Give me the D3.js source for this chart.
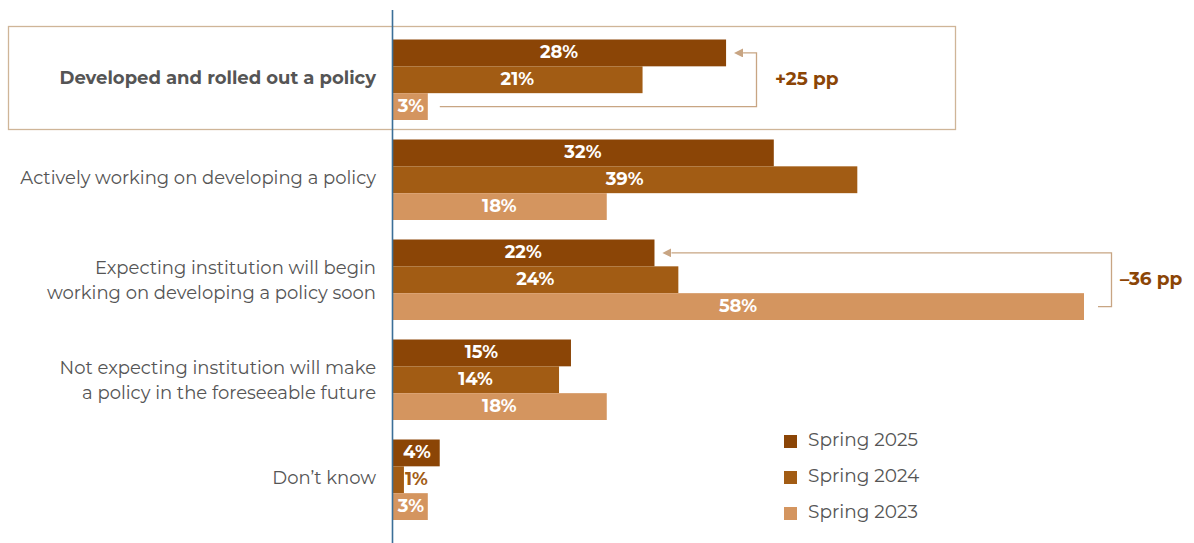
<!DOCTYPE html>
<html>
<head>
<meta charset="utf-8">
<script src="https://cdn.jsdelivr.net/npm/d3@7"></script>
<style>
  body { margin: 0; background: #fff; }
  svg { display: block; font-family: "Montserrat", "Lato", "Open Sans", sans-serif; }
</style>
</head>
<body>
<svg id="chart" width="1194" height="543"></svg>
<script>
// Policy status by survey wave
const categories = [
  ["Developed and rolled out a policy"],
  ["Actively working on developing a policy"],
  ["Expecting institution will begin", "working on developing a policy soon"],
  ["Not expecting institution will make", "a policy in the foreseeable future"],
  ["Don\u2019t know"]
];
const seriesNames = ["Spring 2025", "Spring 2024", "Spring 2023"];
const spring2025 = [28, 32, 22, 15, 4];
const spring2024 = [21, 39, 24, 14, 1];
const spring2023 = [3, 18, 58, 18, 3];
const seriesValues = [spring2025, spring2024, spring2023];
const colors = ["#8b4506", "#a25c14", "#d4955f"];

const svg = d3.select("#chart");
const x0 = 392;
const x = d3.scaleLinear().domain([0, 58]).range([x0, 1084]);
const group = d3.scaleBand().domain(d3.range(categories.length)).range([39.5, 539.5]).paddingInner(0).paddingOuter(0);
const bandH = 80.5;
const inner = d3.scaleBand().domain(d3.range(3)).range([0, bandH]);

// Highlight box around first category
svg.append("rect")
  .attr("x", 8.5).attr("y", 26.5).attr("width", 947).attr("height", 103)
  .attr("fill", "none").attr("stroke", "#cfb598").attr("stroke-width", 1.3);

// Bars
categories.forEach((cat, i) => {
  const gy = group(i);
  seriesValues.forEach((vals, s) => {
    const v = vals[i];
    const y = gy + inner(s);
    svg.append("rect")
      .attr("x", x0).attr("y", y)
      .attr("width", x(v) - x0).attr("height", inner.bandwidth())
      .attr("fill", colors[s]);
    const w = x(v) - x0;
    const inside = w > 30;
    const t = svg.append("text")
      .attr("y", y + inner.bandwidth() / 2)
      .attr("dy", "0.3em")
      .attr("font-size", 18).attr("font-weight", 700)
      .text(v + "%");
    if (!inside) {
      t.attr("x", x(v) + 1).attr("text-anchor", "start").attr("fill", colors[s]);
    } else {
      t.attr("x", x0 + w / 2 + (w < 50 ? 1 : 0)).attr("text-anchor", "middle").attr("fill", "#fff");
    }
  });
  // Category label
  const lines = cat;
  const cy = gy + bandH / 2 - (lines.length > 1 ? 0 : 2);
  const lh = 25;
  const txt = svg.append("text")
    .attr("x", 376).attr("text-anchor", "end")
    .attr("fill", "#555")
    .attr("font-size", 18)
    .attr("font-weight", i === 0 ? 700 : 400);
  lines.forEach((l, k) => {
    txt.append("tspan")
      .attr("x", 376)
      .attr("y", cy + (k - (lines.length - 1) / 2) * lh)
      .attr("dy", "0.35em")
      .text(l);
  });
});

// Vertical axis line
svg.append("line")
  .attr("x1", x0 + 0.5).attr("x2", x0 + 0.5).attr("y1", 10).attr("y2", 543)
  .attr("stroke", "#3b6f98").attr("stroke-width", 1.6);

// Change annotations
const defs = svg.append("defs");
defs.append("marker").attr("id", "arr").attr("viewBox", "0 0 10 10")
  .attr("refX", 0).attr("refY", 5).attr("markerWidth", 7).attr("markerHeight", 7)
  .attr("orient", "auto-start-reverse")
  .append("path").attr("d", "M0,0 L10,5 L0,10 Z").attr("fill", "#c8a583");

const midY = (i, s) => group(i) + inner(s) + inner.bandwidth() / 2;
const lineColor = "#c8a583";

// +25 pp: Spring 2023 -> Spring 2025, first category
const a1 = 756.5;
svg.append("path")
  .attr("d", `M${x(3) + 12},${midY(0, 2)} H${a1} V${midY(0, 0)} H${x(28) + 17}`)
  .attr("fill", "none").attr("stroke", lineColor).attr("stroke-width", 1.3)
  .attr("marker-end", "url(#arr)");
svg.append("text").attr("x", 775).attr("y", midY(0, 1)).attr("dy", "0.3em")
  .attr("font-size", 18.5).attr("font-weight", 700).attr("fill", "#8b4506")
  .text("+25 pp");

// −36 pp: Spring 2023 -> Spring 2025, third category
const a2 = 1111.5;
svg.append("path")
  .attr("d", `M${x(58) + 14},${midY(2, 2)} H${a2} V${midY(2, 0)} H${x(22) + 17}`)
  .attr("fill", "none").attr("stroke", lineColor).attr("stroke-width", 1.3)
  .attr("marker-end", "url(#arr)");
svg.append("text").attr("x", 1120).attr("y", midY(2, 1)).attr("dy", "0.3em")
  .attr("font-size", 18.5).attr("font-weight", 700).attr("fill", "#8b4506")
  .text("\u201336 pp");

// Legend
const legend = svg.append("g").attr("transform", "translate(784,440)");
seriesNames.forEach((n, s) => {
  const g = legend.append("g").attr("transform", `translate(0,${s * 36})`);
  g.append("rect").attr("x", 0).attr("y", -5).attr("width", 13).attr("height", 13).attr("fill", colors[s]);
  g.append("text").attr("x", 24).attr("y", 0).attr("dy", "0.3em")
    .attr("font-size", 18.5).attr("fill", "#555").text(n);
});
</script>
</body>
</html>
